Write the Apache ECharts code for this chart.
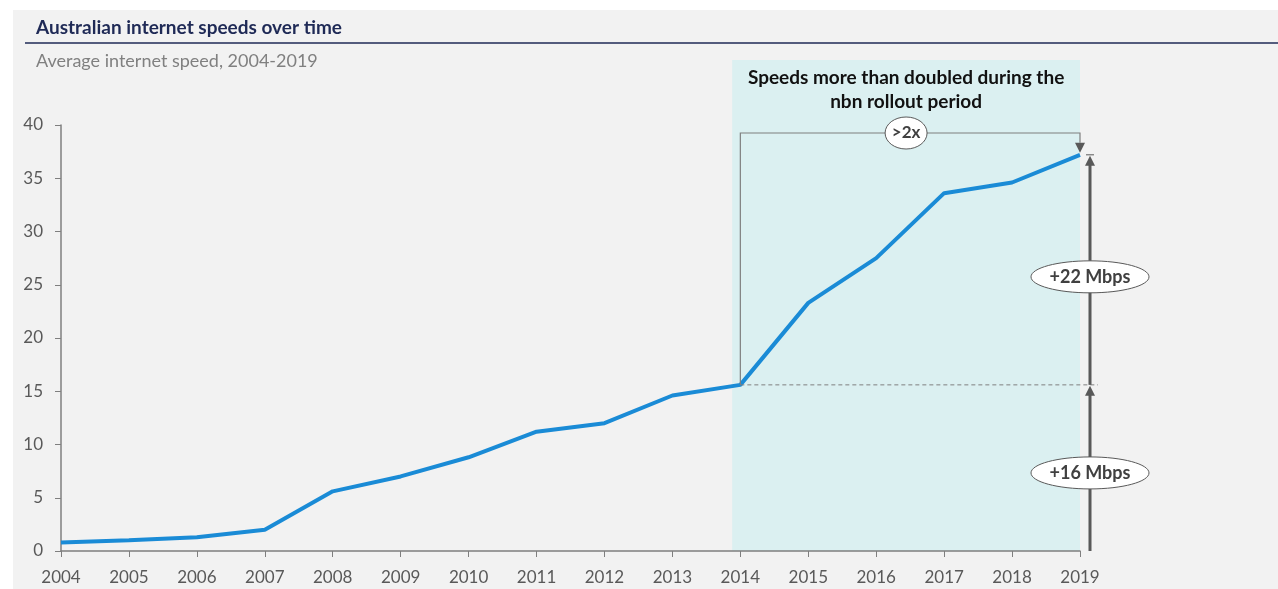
<!DOCTYPE html>
<html>
<head>
<meta charset="utf-8">
<script src="https://cdn.jsdelivr.net/npm/echarts@6/dist/echarts.min.js"></script>
<style>
  html, body { margin: 0; padding: 0; background: #ffffff; }
  #main { position: absolute; left: 13px; top: 10px; width: 1265px; height: 579px; background: #f2f2f2; }
</style>
</head>
<body>
<div id="main"></div>
<script>
// data
var years = [2004, 2005, 2006, 2007, 2008, 2009, 2010, 2011, 2012, 2013, 2014, 2015, 2016, 2017, 2018, 2019];
var speeds = [0.8, 1.0, 1.3, 2.0, 5.6, 7.0, 8.8, 11.2, 12.0, 14.6, 15.6, 23.3, 27.5, 33.6, 34.6, 37.2];
var rolloutStart = 2013.88;
var gainBefore = '+16 Mbps';
var gainAfter = '+22 Mbps';
var ratioLabel = '>2x';

var FONT = 'Lato, "Open Sans", sans-serif';
var chart = echarts.init(document.getElementById('main'));

chart.setOption({
  backgroundColor: '#f2f2f2',
  animation: false,
  textStyle: { fontFamily: FONT },
  grid: { left: 48, right: 198, top: 115, bottom: 38 },
  xAxis: {
    type: 'value',
    min: 2004,
    max: 2019,
    interval: 1,
    axisLine: { lineStyle: { color: '#7f7f7f', width: 1.5 } },
    axisTick: { show: true, length: 6, lineStyle: { color: '#7f7f7f' } },
    splitLine: { show: false },
    axisLabel: { color: '#595959', fontSize: 17, margin: 18, formatter: function (v) { return String(v); } }
  },
  yAxis: {
    type: 'value',
    min: 0,
    max: 40,
    interval: 5,
    axisLine: { show: true, lineStyle: { color: '#7f7f7f', width: 1.5 } },
    axisTick: { show: true, inside: false, length: 6, lineStyle: { color: '#7f7f7f' } },
    splitLine: { show: false },
    axisLabel: { color: '#595959', fontSize: 17, margin: 18 }
  },
  series: [{
    type: 'line',
    data: years.map(function (y, i) { return [y, speeds[i]]; }),
    symbol: 'none',
    z: 5,
    lineStyle: { color: '#1a8bd6', width: 4 }
  }]
});

function drawAnnotations() {
  var p = function (x, y) { return chart.convertToPixel({ gridIndex: 0 }, [x, y]); };
  var startIdx = years.indexOf(2014);
  var lastIdx = years.length - 1;
  var a = p(rolloutStart, 0);
  var b = p(years[lastIdx], 0);
  var s = p(years[startIdx], speeds[startIdx]);
  var e = p(years[lastIdx], speeds[lastIdx]);
  var topY = 50;
  var bracketY = 123;
  var arrowX = b[0] + 10;
  var midX = (a[0] + b[0]) / 2;
  var lineGray = '#595959';

  function ellipse(cx, cy, rx, ry, text, size) {
    return [
      { type: 'ellipse', shape: { cx: cx, cy: cy, rx: rx, ry: ry }, style: { fill: '#ffffff', stroke: '#595959', lineWidth: 1 }, z: 20 },
      { type: 'text', x: cx, y: cy, style: { text: text, fill: '#404040', font: 'bold ' + size + 'px ' + FONT, align: 'center', verticalAlign: 'middle' }, z: 21 }
    ];
  }
  function arrowHead(x, y, dir) {
    // dir: 1 points down, -1 points up
    return { type: 'polygon', shape: { points: [[x, y], [x - 5, y - dir * 10], [x + 5, y - dir * 10]] }, style: { fill: lineGray }, z: 15 };
  }

  var els = [
    { type: 'rect', shape: { x: a[0], y: topY, width: b[0] - a[0], height: a[1] - topY }, style: { fill: '#dbf0f1' }, z: -10 },
    { type: 'text', x: midX, y: 80, style: { text: 'Speeds more than doubled during the\nnbn rollout period', fill: '#111111', font: 'bold 19px ' + FONT, align: 'center', verticalAlign: 'middle', lineHeight: 24 }, z: 10 },
    // bracket
    { type: 'polyline', shape: { points: [[s[0], s[1]], [s[0], bracketY], [e[0], bracketY], [e[0], e[1] - 12]] }, style: { stroke: '#7f7f7f', lineWidth: 1.2, fill: null }, z: 12 },
    arrowHead(e[0], e[1] - 2, 1),
    // dashed reference
    { type: 'line', shape: { x1: s[0], y1: s[1], x2: arrowX + 8, y2: s[1] }, style: { stroke: '#7f7f7f', lineWidth: 1, lineDash: [4, 3] }, z: 12 },
    // right arrows
    { type: 'line', shape: { x1: arrowX, y1: b[1], x2: arrowX, y2: s[1] + 10 }, style: { stroke: lineGray, lineWidth: 3 }, z: 14 },
    arrowHead(arrowX, s[1] + 1, -1),
    { type: 'line', shape: { x1: arrowX, y1: s[1], x2: arrowX, y2: e[1] + 10 }, style: { stroke: lineGray, lineWidth: 3 }, z: 14 },
    arrowHead(arrowX, e[1] + 1, -1),
    { type: 'line', shape: { x1: arrowX - 4, y1: e[1], x2: arrowX + 4, y2: e[1] }, style: { stroke: lineGray, lineWidth: 1 }, z: 14 }
  ];
  els = els.concat(ellipse(midX, bracketY, 21, 16, ratioLabel, 17));
  els = els.concat(ellipse(arrowX, (s[1] + e[1]) / 2 + 7, 59, 16, gainAfter, 18));
  els = els.concat(ellipse(arrowX, (b[1] + s[1]) / 2 + 5, 59, 16, gainBefore, 18));

  // title block
  els.push({ type: 'text', x: 23, y: 18, style: { text: 'Australian internet speeds over time', fill: '#1f2a56', font: 'bold 19px ' + FONT, verticalAlign: 'middle' } });
  els.push({ type: 'line', shape: { x1: 12, y1: 33, x2: 1265, y2: 33 }, style: { stroke: '#1f2a56', lineWidth: 1.5 } });
  els.push({ type: 'text', x: 23, y: 51, style: { text: 'Average internet speed, 2004-2019', fill: '#808080', font: '18px ' + FONT, verticalAlign: 'middle' } });

  chart.setOption({ graphic: { elements: els } });
}
drawAnnotations();
</script>
</body>
</html>
